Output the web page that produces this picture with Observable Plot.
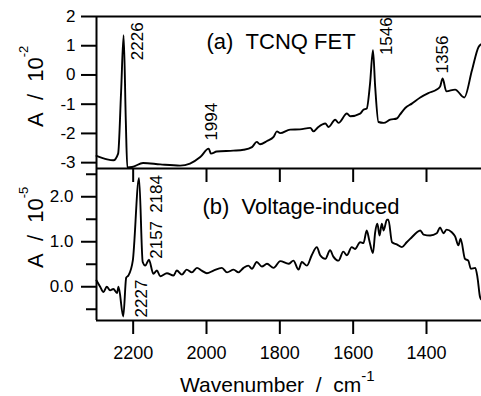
<!DOCTYPE html>
<html>
<head>
<meta charset="utf-8">
<script src="https://cdn.jsdelivr.net/npm/d3@7"></script>
<script src="https://cdn.jsdelivr.net/npm/@observablehq/plot@0.6"></script>
<style>
html,body{margin:0;padding:0;background:#fff;}
#chart{position:relative;width:481px;height:396px;overflow:hidden;background:#fff;}
#chart svg{position:absolute;left:0;}
</style>
</head>
<body>
<div id="chart"></div>
<script>
// ---- data ----
const topWave = [2300, 2271, 2254, 2241, 2233, 2226, 2220, 2216, 2203, 2173, 2126, 2072, 2045, 2017, 1994, 1988, 1972, 1927, 1899, 1876, 1863, 1854, 1835, 1817, 1808, 1799, 1772, 1745, 1717, 1708, 1695, 1676, 1667, 1649, 1640, 1617, 1608, 1581, 1572, 1563, 1554, 1546, 1540, 1531, 1517, 1499, 1481, 1472, 1458, 1440, 1417, 1395, 1372, 1363, 1356, 1346, 1322, 1297, 1276, 1258, 1251];
const topAbs = [-2.77, -2.89, -2.92, -2.69, -0.6, 1.36, -1.6, -3.16, -3.15, -3.01, -3.06, -3.1, -3.03, -2.81, -2.52, -2.69, -2.62, -2.59, -2.56, -2.47, -2.29, -2.37, -2.26, -2.12, -1.93, -1.99, -1.87, -1.86, -1.81, -1.93, -1.78, -1.66, -1.78, -1.53, -1.64, -1.32, -1.41, -1.32, -1.19, -1.15, -0.3, 0.85, -0.4, -1.61, -1.64, -1.53, -1.49, -1.35, -1.13, -0.98, -0.77, -0.62, -0.5, -0.4, -0.12, -0.56, -0.5, -0.77, 0.16, 0.96, 1.05];

const botWave = [2300, 2290, 2281, 2272, 2263, 2254, 2244, 2240, 2227, 2219, 2213, 2201, 2184, 2174, 2167, 2157, 2145, 2135, 2126, 2108, 2090, 2081, 2067, 2054, 2040, 2026, 2013, 1999, 1981, 1958, 1944, 1926, 1913, 1899, 1886, 1876, 1863, 1849, 1835, 1817, 1799, 1776, 1763, 1749, 1740, 1726, 1713, 1699, 1690, 1676, 1663, 1654, 1640, 1627, 1617, 1604, 1595, 1581, 1572, 1563, 1556, 1546, 1540, 1534, 1528, 1522, 1517, 1508, 1504, 1494, 1481, 1467, 1454, 1440, 1426, 1417, 1408, 1390, 1372, 1363, 1354, 1345, 1331, 1322, 1313, 1307, 1295, 1286, 1279, 1267, 1261, 1254, 1251];
const botAbs = [0.14, 0, -0.12, 0, -0.08, -0.05, -0.14, 0, -0.66, 0.2, 0.25, 0.58, 2.42, 0.55, 0.47, 0.6, 0.29, 0.36, 0.23, 0.3, 0.25, 0.36, 0.27, 0.38, 0.32, 0.42, 0.36, 0.3, 0.36, 0.42, 0.32, 0.38, 0.32, 0.42, 0.47, 0.4, 0.55, 0.45, 0.51, 0.42, 0.57, 0.51, 0.58, 0.38, 0.55, 0.47, 0.7, 0.88, 0.7, 0.62, 0.81, 0.67, 0.58, 0.78, 0.7, 0.88, 0.84, 0.99, 0.97, 1.25, 1.03, 0.75, 1.21, 1.4, 1.14, 1.4, 1.25, 1.49, 1.49, 0.99, 0.94, 0.88, 0.99, 1.1, 1.21, 1.25, 1.16, 1.14, 1.19, 1.32, 1.19, 1.27, 1.21, 1.12, 0.92, 1.07, 0.62, 0.58, 0.4, 0.42, 0.21, -0.23, -0.28];

const xTicks = [2200, 2000, 1800, 1600, 1400];
const topYTicks = [-3, -2, -1, 0, 1, 2];
const botYTicks = [0, 1, 2];
const botYMinor = [-0.5, 0.5, 1.5, 2.5];
const topPeaks = ["2226", "1994", "1546", "1356"];
const botPeaks = ["2184", "2157", "2227"];
const topTitle = "(a)\u00a0\u00a0TCNQ FET";
const botTitle = "(b)\u00a0\u00a0Voltage-induced";
const yLabelMain = "A\u00a0\u00a0/\u00a0\u00a010";
const topYSup = "-2";
const botYSup = "-5";
const xLabelMain = "Wavenumber\u00a0\u00a0/\u00a0\u00a0cm";
const xLabelSup = "-1";

// ---- style / layout ----
const FF = '"Liberation Sans", Arial, Helvetica, sans-serif';
const peakOffsets = {
  "2226": [14, 25], "1994": [3, -8], "1546": [14, 5], "1356": [0, -5],
  "2184": [18, 35], "2157": [8, -1], "2227": [18, 1]
};

function peakMarks(labels, wave, abs) {
  return labels.map(lab => {
    const i = wave.indexOf(+lab);
    const [dx, dy] = peakOffsets[lab];
    return Plot.text([lab], {
      x: [wave[i]], y: [abs[i]], text: d => d,
      rotate: -90, textAnchor: "start", lineAnchor: "middle",
      dx, dy, fontSize: 17, fill: "black", fontFamily: FF
    });
  });
}

const commonStyle = {background: "transparent", overflow: "visible", fontFamily: FF, color: "black"};

const topPlot = Plot.plot({
  width: 481, height: 182,
  marginLeft: 96, marginRight: 0, marginTop: 16, marginBottom: 14,
  style: commonStyle,
  x: {domain: [2300, 1250], axis: null},
  y: {domain: [-3.2, 2], axis: null},
  marks: [
    Plot.ruleY([2, -3.2], {strokeWidth: 2}),
    Plot.ruleX([2300], {strokeWidth: 2}),
    Plot.axisX(xTicks, {tickSize: 14, strokeWidth: 2, tickFormat: () => "", label: null}),
    Plot.axisY(topYTicks, {tickSize: 15, tickPadding: 6, strokeWidth: 2, fontSize: 17, label: null, tickFormat: d => String(d)}),
    Plot.line(topWave, {x: topWave, y: topAbs, stroke: "black", strokeWidth: 1.9, curve: "monotone-x"}),
    ...peakMarks(topPeaks, topWave, topAbs),
    Plot.text([topTitle], {frameAnchor: "top-left", textAnchor: "start", lineAnchor: "bottom", dx: 110, dy: 32, fontSize: 22, fill: "black"})
  ]
});

const botPlot = Plot.plot({
  width: 481, height: 228,
  marginLeft: 96, marginRight: 0, marginTop: 0, marginBottom: 76,
  style: commonStyle,
  x: {domain: [2300, 1250], axis: null},
  y: {domain: [-0.75, 2.628], axis: null},
  marks: [
    Plot.ruleY([-0.75], {strokeWidth: 2}),
    Plot.ruleX([2300], {strokeWidth: 2}),
    Plot.axisX(xTicks, {tickSize: 14, tickPadding: 12, strokeWidth: 2, fontSize: 18, label: null, tickFormat: d => String(d)}),
    Plot.axisY(botYTicks, {tickSize: 15, tickPadding: 8, strokeWidth: 2, fontSize: 17, label: null, tickFormat: d => d.toFixed(1)}),
    Plot.axisY(botYMinor, {tickSize: 10, strokeWidth: 2, label: null, tickFormat: () => ""}),
    Plot.line(botWave, {x: botWave, y: botAbs, stroke: "black", strokeWidth: 1.9, curve: "monotone-x"}),
    ...peakMarks(botPeaks, botWave, botAbs),
    Plot.text([botTitle], {frameAnchor: "top-left", textAnchor: "start", lineAnchor: "bottom", dx: 106, dy: 45, fontSize: 22, fill: "black"})
  ]
});

function addRotLabel(svg, x, y, main, sup) {
  const t = d3.select(svg).append("text")
    .attr("transform", `translate(${x},${y}) rotate(-90)`)
    .attr("font-family", FF).attr("font-size", 22).attr("fill", "black")
    .attr("text-anchor", "start");
  t.append("tspan").text(main);
  t.append("tspan").attr("font-size", 13).attr("dy", -15).text(sup);
}

addRotLabel(topPlot, 43, 127, yLabelMain, topYSup);
addRotLabel(botPlot, 43, 100, yLabelMain, botYSup);

const xl = d3.select(botPlot).append("text")
  .attr("x", 180).attr("y", 224)
  .attr("font-family", FF).attr("font-size", 21).attr("fill", "black")
  .attr("text-anchor", "start");
xl.append("tspan").text(xLabelMain);
xl.append("tspan").attr("font-size", 15).attr("dy", -11).text(xLabelSup);

topPlot.style.top = "0px";
botPlot.style.top = "168px";
const chart = document.getElementById("chart");
chart.appendChild(botPlot);
chart.appendChild(topPlot);
</script>
</body>
</html>
